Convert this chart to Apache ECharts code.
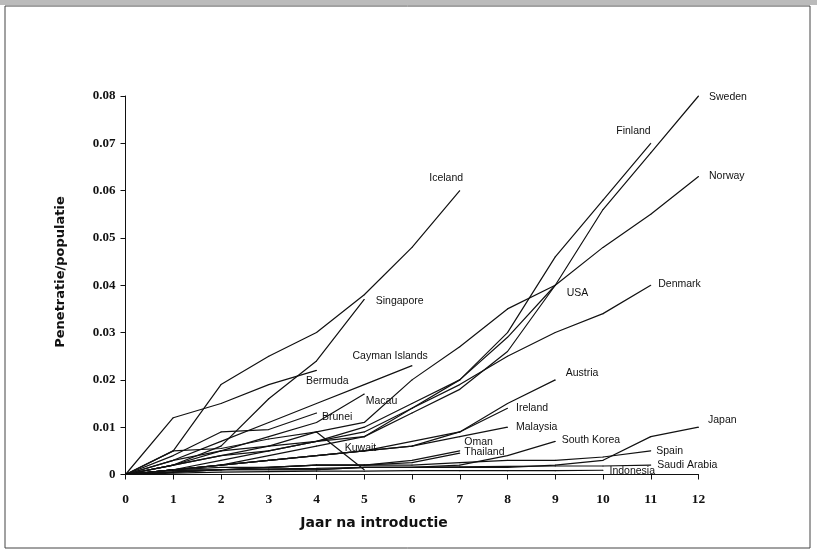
<!DOCTYPE html>
<html>
<head>
<meta charset="utf-8">
<script src="https://cdn.jsdelivr.net/npm/echarts@6/dist/echarts.min.js"></script>
<style>html,body{margin:0;padding:0;background:#fff}#c{width:817px;height:554px}</style>
</head>
<body>
<div id="c"></div>
<script>
// Values per year after introduction (index = year 0,1,2,...)
const xTicks = [0,1,2,3,4,5,6,7,8,9,10,11,12];
const yTicks = [0,0.01,0.02,0.03,0.04,0.05,0.06,0.07,0.08];
const countries = ['Iceland','Singapore','Cayman Islands','Bermuda','Macau','Brunei','Kuwait','Finland','Sweden','Norway','USA','Denmark','Austria','Ireland','Malaysia','Oman','Thailand','South Korea','Japan','Spain','Saudi Arabia','Indonesia'];
const iceland   = [0,0.005,0.019,0.025,0.030,0.038,0.048,0.060];
const singapore = [0,0.002,0.006,0.016,0.024,0.037];
const cayman    = [0,0.003,0.007,0.011,0.015,0.019,0.023];
const bermuda   = [0,0.012,0.015,0.019,0.022];
const macau     = [0,0.002,0.005,0.008,0.011,0.017];
const brunei    = [0,0.004,0.009,0.0095,0.013];
const kuwait    = [0,0.005,0.0055,0.0075,0.009,0.001];
const finland   = [0,0.001,0.003,0.005,0.007,0.009,0.014,0.020,0.030,0.046,0.058,0.070];
const sweden    = [0,0.001,0.002,0.004,0.006,0.008,0.013,0.018,0.026,0.040,0.056,0.068,0.080];
const norway    = [0,0.002,0.004,0.005,0.007,0.010,0.015,0.020,0.029,0.040,0.048,0.055,0.063];
const usa       = [0,0.002,0.004,0.006,0.009,0.011,0.020,0.027,0.035,0.040];
const denmark   = [0,0.003,0.005,0.006,0.007,0.008,0.014,0.019,0.025,0.030,0.034,0.040];
const austria   = [0,0.001,0.002,0.003,0.004,0.005,0.007,0.009,0.015,0.020];
const ireland   = [0,0.001,0.002,0.003,0.004,0.005,0.006,0.009,0.014];
const malaysia  = [0,0.001,0.002,0.003,0.004,0.005,0.006,0.008,0.010];
const oman      = [0,0.001,0.001,0.0015,0.002,0.002,0.003,0.005];
const thailand  = [0,0.0005,0.001,0.0015,0.002,0.002,0.0025,0.0045];
const southKorea= [0,0.0005,0.001,0.001,0.001,0.0015,0.0015,0.002,0.004,0.007];
const japan     = [0,0.0005,0.001,0.001,0.001,0.0015,0.0015,0.0015,0.0015,0.002,0.003,0.008,0.010];
const spain     = [0,0.001,0.0015,0.0015,0.002,0.002,0.002,0.0025,0.003,0.003,0.0037,0.005];
const saudi     = [0,0.0008,0.001,0.0012,0.0013,0.0015,0.0015,0.0016,0.0017,0.0018,0.0018,0.002];
const indonesia = [0,0.0003,0.0005,0.0006,0.0007,0.0007,0.0008,0.0008,0.0008,0.0008,0.0009];
const seriesValues = [iceland,singapore,cayman,bermuda,macau,brunei,kuwait,finland,sweden,norway,usa,denmark,austria,ireland,malaysia,oman,thailand,southKorea,japan,spain,saudi,indonesia];
// label offsets relative to the line end (style only)
const labelOffsets = [[-31,-13],[11,2],[-60,-10],[-11,11],[1,7],[5,4],[-20,-22],[-35,-12],[10,1],[10,0],[11,8],[7,-1],[10,-7],[8,0],[8,0],[4,-9],[4,-1],[6,-1],[9,-7],[5,0],[6,0],[6,1]];

const chart = echarts.init(document.getElementById('c'));
const series = countries.map((name, i) => {
  const vals = seriesValues[i];
  const data = vals.map((v, x) => {
    if (x === vals.length - 1) {
      return {value:[x, v], label:{show:true, position:'right', distance:0, offset:labelOffsets[i], formatter:name,
        color:'#111', fontFamily:'Liberation Sans, Arial, sans-serif', fontSize:10.5}};
    }
    return [x, v];
  });
  return {
    name, type:'line', data, symbol:'circle', symbolSize:1, showSymbol:true,
    lineStyle:{color:'#111', width:1.2}, itemStyle:{color:'#111'},
    emphasis:{disabled:true}, silent:true, animation:false, z:2
  };
});
chart.setOption({
  backgroundColor:'#fff',
  animation:false,
  grid:{left:125.5, right:118.5, top:96, bottom:79.5},
  xAxis:{type:'value', min:0, max:12, interval:1,
    axisLine:{lineStyle:{color:'#111', width:1}},
    axisTick:{length:5, lineStyle:{color:'#111'}},
    splitLine:{show:false},
    axisLabel:{margin:18, color:'#111', fontFamily:'Liberation Serif, Times New Roman, serif', fontWeight:'bold', fontSize:13.5}
  },
  yAxis:{type:'value', min:0, max:0.08, interval:0.01,
    axisLine:{show:true, lineStyle:{color:'#111', width:1}},
    axisTick:{show:true, length:5, lineStyle:{color:'#111'}},
    splitLine:{show:false},
    axisLabel:{margin:10, color:'#111', fontFamily:'Liberation Serif, Times New Roman, serif', fontWeight:'bold', fontSize:13,
      formatter: v => v === 0 ? '0' : v.toFixed(2)}
  },
  graphic:[
    {type:'rect', shape:{x:5, y:6, width:805, height:542}, style:{fill:'none', stroke:'#444', lineWidth:1}, silent:true},
    {type:'rect', shape:{x:0, y:0, width:817, height:5}, style:{fill:'#bbb'}, silent:true},
    {type:'text', x:61, y:272, rotation:Math.PI/2, style:{text:'Penetratie/populatie', font:'bold 13px "DejaVu Sans"', fill:'#111', textAlign:'center', textVerticalAlign:'middle'}},
    {type:'text', x:374, y:523, style:{text:'Jaar na introductie', font:'bold 14px "DejaVu Sans"', fill:'#111', textAlign:'center', textVerticalAlign:'middle'}}
  ],
  series
});
</script>
</body>
</html>
